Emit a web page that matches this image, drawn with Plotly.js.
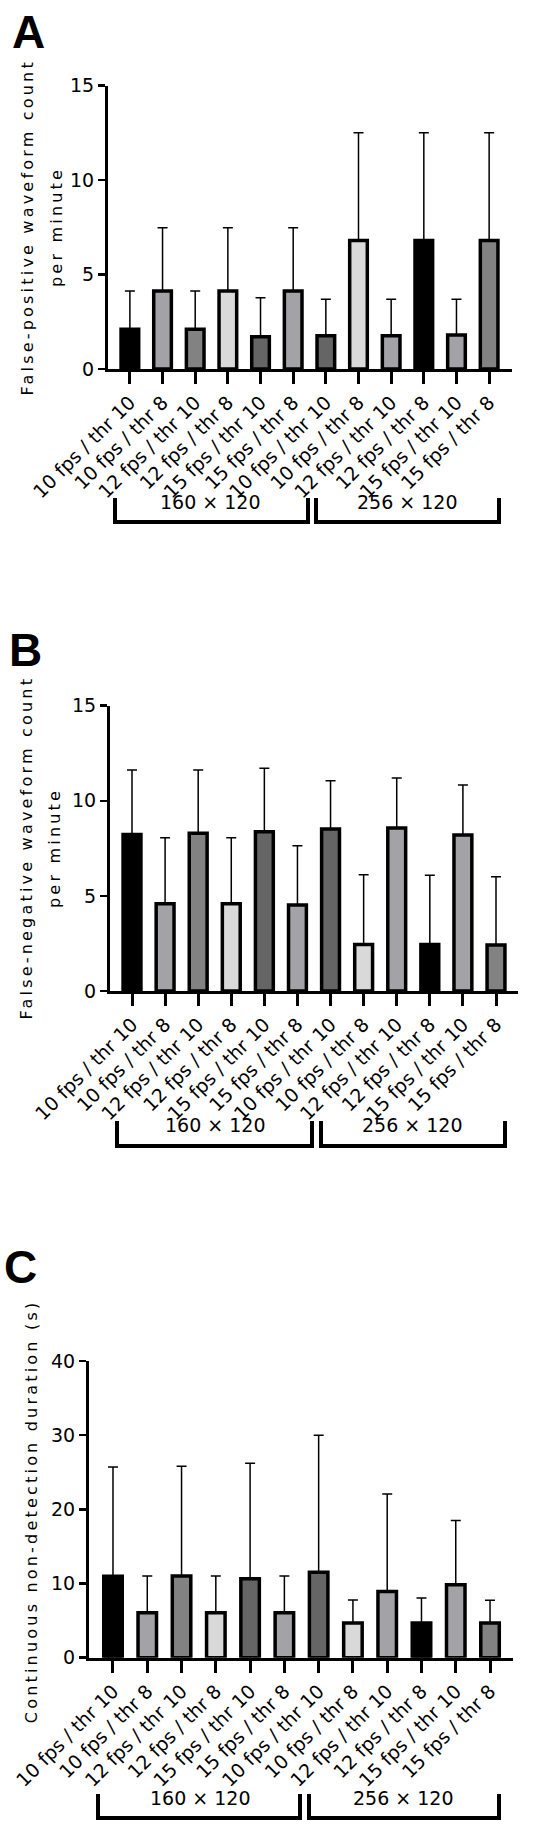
<!DOCTYPE html>
<html>
<head>
<meta charset="utf-8">
<script src="https://cdn.plot.ly/plotly-3.0.1.min.js"></script>
<style>
  html, body { margin: 0; padding: 0; background: #fff; }
  #chart { width: 550px; height: 1837px; }
</style>
</head>
<body>
<div id="chart"></div>
<script>
// ---------------- data ----------------
const categories = [
  "10 fps / thr 10", "10 fps / thr 8", "12 fps / thr 10", "12 fps / thr 8",
  "15 fps / thr 10", "15 fps / thr 8", "10 fps / thr 10", "10 fps / thr 8",
  "12 fps / thr 10", "12 fps / thr 8", "15 fps / thr 10", "15 fps / thr 8"
];
const groupLabels = ["160 × 120", "256 × 120"];
const panelLetters = ["A", "B", "C"];

// A: false-positive waveform count per minute (mean, +SD)
const falsePosMean = [2.10, 4.13, 2.10, 4.13, 1.71, 4.13, 1.76, 6.81, 1.76, 6.81, 1.80, 6.81];
const falsePosSD   = [2.03, 3.35, 2.03, 3.35, 2.06, 3.35, 1.93, 5.70, 1.93, 5.70, 1.89, 5.70];

// B: false-negative waveform count per minute (mean, +SD)
const falseNegMean = [8.23, 4.59, 8.29, 4.59, 8.37, 4.52, 8.52, 2.45, 8.57, 2.45, 8.20, 2.42];
const falseNegSD   = [3.39, 3.47, 3.33, 3.47, 3.34, 3.12, 2.54, 3.66, 2.63, 3.63, 2.63, 3.59];

// C: continuous non-detection duration in seconds (mean, +SD)
const nonDetMean = [10.97, 6.06, 11.03, 6.06, 10.63, 6.06, 11.53, 4.68, 8.93, 4.68, 9.83, 4.68];
const nonDetSD   = [14.73, 4.94, 14.77, 4.94, 15.57, 4.94, 18.47, 3.10, 13.13, 3.37, 8.67, 3.07];

const countTicks = [0, 5, 10, 15];
const durationTicks = [0, 10, 20, 30, 40];

const yTitleA = ["False-positive waveform count", "per minute"];
const yTitleB = ["False-negative waveform count", "per minute"];
const yTitleC = ["Continuous non-detection duration (s)"];

// ---------------- style ----------------
const barColors = ["#000000", "#a3a3a7", "#828282", "#d9d9d9", "#656565", "#a3a3a7",
                   "#656565", "#d9d9d9", "#a3a3a7", "#000000", "#a3a3a7", "#828282"];
const W = 550, H = 1837;
const px = x => x / W;
const py = y => 1 - y / H;
const FONT = "DejaVu Sans, Liberation Sans, Arial, sans-serif";
const xIdx = categories.map((_, i) => i);

const panels = [
  { mean: falsePosMean, sd: falsePosSD, ticks: countTicks, yr: [0, 15],
    xd: [108, 512], yd: [85.7, 369], xr: [-0.67, 11.70],
    titles: yTitleA, titleX: [27, 56], titleY: 227,
    letter: { x: 28, y: 32 },
    brackets: [[115, 308], [316, 499]], bTop: 498, bBot: 522, labelX: [211, 407], labelY: 502 },
  { mean: falseNegMean, sd: falseNegSD, ticks: countTicks, yr: [0, 15],
    xd: [110, 518], yd: [705.7, 991], xr: [-0.665, 11.665],
    titles: yTitleB, titleX: [27, 55], titleY: 848,
    letter: { x: 25, y: 650 },
    brackets: [[117, 312], [321, 505]], bTop: 1121, bBot: 1146, labelX: [215, 412], labelY: 1125 },
  { mean: nonDetMean, sd: nonDetSD, ticks: durationTicks, yr: [0, 40],
    xd: [89, 513], yd: [1361, 1657.7], xr: [-0.70, 11.67],
    titles: yTitleC, titleX: [31], titleY: 1512,
    letter: { x: 20, y: 1267 },
    brackets: [[98, 300], [309, 499]], bTop: 1794, bBot: 1818, labelX: [200, 403], labelY: 1798 }
];

const traces = [];
const layout = {
  width: W, height: H,
  margin: { l: 0, r: 0, t: 0, b: 0 },
  paper_bgcolor: "#fff", plot_bgcolor: "#fff",
  showlegend: false,
  font: { family: FONT, color: "#000" },
  shapes: [], annotations: []
};
const titleTexts = [];

panels.forEach((p, k) => {
  const s = k === 0 ? "" : String(k + 1);
  traces.push({
    type: "bar", x: xIdx, y: p.mean, width: 0.54,
    xaxis: "x" + s, yaxis: "y" + s,
    marker: { color: barColors, line: { color: "#000", width: 3.5 } },
    error_y: { type: "data", symmetric: false, array: p.sd, arrayminus: p.sd.map(() => 0),
               color: "#000", thickness: 1.5, width: 5 },
    hoverinfo: "skip"
  });
  layout["xaxis" + s] = {
    domain: [px(p.xd[0]), px(p.xd[1])], range: p.xr, anchor: "y" + s,
    tickmode: "array", tickvals: xIdx, ticktext: categories, tickangle: -45,
    ticks: "outside", ticklen: 12, tickwidth: 3, tickcolor: "#000",
    showline: true, linewidth: 3, linecolor: "#000",
    showgrid: false, zeroline: false, fixedrange: true,
    tickfont: { family: FONT, size: 19, color: "#000" }
  };
  layout["yaxis" + s] = {
    domain: [py(p.yd[1]), py(p.yd[0])], range: p.yr, anchor: "x" + s,
    tickmode: "array", tickvals: p.ticks,
    ticks: "outside", ticklen: 7, tickwidth: 2.5, tickcolor: "#000",
    showline: true, linewidth: 3, linecolor: "#000",
    showgrid: false, zeroline: false, fixedrange: true,
    tickfont: { family: FONT, size: 19, color: "#000" }
  };
  // panel letter
  layout.annotations.push({
    text: panelLetters[k], xref: "paper", yref: "paper",
    x: px(p.letter.x), y: py(p.letter.y), xanchor: "center", yanchor: "middle",
    showarrow: false, font: { family: "Liberation Sans, Arial, sans-serif", size: 46, weight: "bold", color: "#000" }
  });
  // y titles
  p.titles.forEach((t, j) => {
    titleTexts.push(t);
    layout.annotations.push({
      text: t, xref: "paper", yref: "paper", textangle: -90,
      x: px(p.titleX[j]), y: py(p.titleY), xanchor: "center", yanchor: "middle",
      showarrow: false, font: { family: FONT, size: 16, color: "#000" }
    });
  });
  // brackets and group labels
  p.brackets.forEach((b, j) => {
    layout.shapes.push({
      type: "path", xref: "paper", yref: "paper",
      path: `M ${px(b[0])},${py(p.bTop)} L ${px(b[0])},${py(p.bBot)} L ${px(b[1])},${py(p.bBot)} L ${px(b[1])},${py(p.bTop)}`,
      line: { color: "#000", width: 4 }
    });
    layout.annotations.push({
      text: groupLabels[j], xref: "paper", yref: "paper",
      x: px(p.labelX[j]), y: py(p.labelY), xanchor: "center", yanchor: "middle",
      showarrow: false, font: { family: FONT, size: 19, color: "#000" }
    });
  });
});

Plotly.newPlot("chart", traces, layout, { displayModeBar: false, staticPlot: true }).then(() => {
  document.querySelectorAll("#chart .annotation-text").forEach(el => {
    if (titleTexts.includes(el.textContent)) el.style.letterSpacing = "3.2px";
  });
});
</script>
</body>
</html>
